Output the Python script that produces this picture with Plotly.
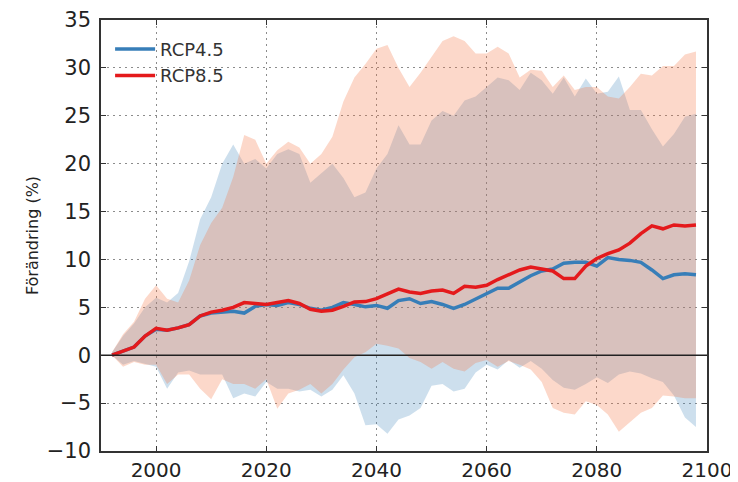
import plotly.graph_objects as go

years = list(range(1992, 2099, 2))

rcp45_mean = [0.0, 0.4, 0.85, 2.0, 2.7, 2.6, 2.85, 3.2, 4.1, 4.4,
              4.5, 4.6, 4.4, 5.1, 5.3, 5.2, 5.5, 5.3, 4.9, 4.7,
              5.0, 5.5, 5.3, 5.05, 5.2, 4.9, 5.7, 5.9, 5.4, 5.6,
              5.3, 4.9, 5.3, 5.9, 6.5, 7.0, 7.0, 7.7, 8.3, 8.8,
              9.0, 9.6, 9.7, 9.7, 9.3, 10.2, 10.0, 9.9, 9.7, 8.9,
              8.0, 8.4, 8.5, 8.4]
rcp85_mean = [0.0, 0.4, 0.85, 2.0, 2.8, 2.6, 2.85, 3.2, 4.1, 4.5,
              4.7, 5.0, 5.5, 5.4, 5.3, 5.5, 5.7, 5.4, 4.8, 4.6,
              4.7, 5.1, 5.56, 5.6, 5.9, 6.4, 6.9, 6.6, 6.45, 6.7,
              6.8, 6.45, 7.2, 7.1, 7.3, 7.9, 8.4, 8.9, 9.2, 9.0,
              8.8, 8.0, 8.0, 9.3, 10.1, 10.6, 11.0, 11.7, 12.7, 13.5,
              13.2, 13.6, 13.5, 13.6]

rcp45_high = [0.3, 2.0, 3.3, 5.0, 6.0, 5.5, 6.5, 9.8, 14.2, 16.5,
              20.0, 22.0, 20.0, 20.5, 19.5, 21.0, 21.5, 21.0, 18.0, 19.0,
              20.0, 18.5, 16.5, 17.0, 19.5, 21.0, 24.0, 22.0, 22.0, 24.5,
              25.5, 25.0, 26.6, 27.0, 28.0, 29.0, 28.7, 27.7, 29.5, 28.7,
              27.3, 29.0, 27.0, 28.9, 27.3, 27.5, 29.1, 25.6, 25.6, 23.6,
              21.8, 23.1, 24.9, 25.2]
rcp45_low = [0.0, -1.0, -0.6, -0.9, -1.2, -3.5, -1.8, -1.6, -2.0, -2.0,
             -2.0, -4.5, -4.0, -4.3, -2.8, -3.5, -3.5, -3.8, -3.6, -4.3,
             -3.6, -2.1, -4.0, -7.3, -7.2, -8.2, -6.7, -6.3, -5.5, -3.2,
             -3.0, -3.8, -3.5, -1.8, -1.0, -1.5, -0.5, -1.3, -0.6, -1.4,
             -2.6, -3.4, -3.6, -3.0, -2.3, -2.9, -2.0, -1.7, -1.9, -2.4,
             -2.8, -4.2, -6.5, -7.5]

rcp85_high = [0.3, 2.2, 3.5, 5.9, 7.3, 5.9, 5.5, 7.8, 11.5, 13.8,
              15.4, 18.6, 23.0, 22.5, 20.0, 21.4, 22.3, 21.7, 20.0, 21.0,
              22.8, 26.5, 29.0, 30.4, 32.0, 32.4, 30.0, 28.0, 29.5, 31.1,
              32.8, 33.3, 32.8, 31.5, 31.5, 32.2, 31.5, 29.0, 29.8, 29.7,
              28.0, 29.2, 27.7, 28.0, 28.0, 27.0, 26.8, 28.0, 29.4, 29.2,
              30.2, 30.2, 31.4, 31.7]
rcp85_low = [0.0, -1.2, -0.7, -1.0, -1.0, -3.0, -2.0, -2.0, -3.5, -4.6,
             -2.5, -3.0, -3.0, -3.5, -2.5, -5.6, -4.0, -3.6, -3.0, -4.0,
             -3.0, -1.5, -0.2, 0.3, 1.2, 1.0, 0.7, -0.3, -0.7, -1.4,
             -0.7, -1.4, -1.7, -0.8, -0.5, -1.2, -0.6, -1.0, -1.5, -2.8,
             -5.5, -6.0, -6.2, -4.8, -5.2, -6.2, -8.0, -7.0, -6.0, -5.5,
             -4.2, -4.3, -4.5, -4.5]

x_range = [1990, 2100]
y_range = [-10, 35]
x_ticks = [2000, 2020, 2040, 2060, 2080, 2100]
y_ticks = [-10, -5, 0, 5, 10, 15, 20, 25, 30, 35]

BLUE = "#377EB8"
RED = "#E41A1C"
BLUE_FILL = "rgba(55,126,184,0.25)"
RED_FILL = "rgba(245,115,65,0.28)"

fig = go.Figure()

# bands
fig.add_trace(go.Scatter(x=years, y=rcp45_low, mode="lines", line=dict(width=0),
                         showlegend=False, hoverinfo="skip"))
fig.add_trace(go.Scatter(x=years, y=rcp45_high, mode="lines", line=dict(width=0),
                         fill="tonexty", fillcolor=BLUE_FILL, showlegend=False,
                         hoverinfo="skip"))
fig.add_trace(go.Scatter(x=years, y=rcp85_low, mode="lines", line=dict(width=0),
                         showlegend=False, hoverinfo="skip"))
fig.add_trace(go.Scatter(x=years, y=rcp85_high, mode="lines", line=dict(width=0),
                         fill="tonexty", fillcolor=RED_FILL, showlegend=False,
                         hoverinfo="skip"))

# mean lines
fig.add_trace(go.Scatter(x=years, y=rcp45_mean, mode="lines", name="RCP4.5",
                         line=dict(color=BLUE, width=3.5)))
fig.add_trace(go.Scatter(x=years, y=rcp85_mean, mode="lines", name="RCP8.5",
                         line=dict(color=RED, width=3.5)))

fig.add_shape(type="line", xref="paper", yref="y", x0=0, x1=1, y0=0, y1=0,
              line=dict(color="#222222", width=1.6), layer="above")

axis_common = dict(
    showline=True, linecolor="#333333", linewidth=1.5, mirror="ticks",
    ticks="inside", ticklen=5, tickcolor="#333333", tickwidth=1,
    showgrid=True, gridcolor="#8c8c8c", griddash="2px,4px", gridwidth=1,
    zeroline=False, automargin=False,
)

fig.update_xaxes(range=x_range, tickvals=x_ticks, ticklabelstandoff=0,
                 tickfont=dict(family="DejaVu Sans", size=20, color="#222222"),
                 **axis_common)
fig.update_yaxes(range=y_range, tickvals=y_ticks, ticklabelstandoff=4,
                 tickfont=dict(family="DejaVu Sans", size=21, color="#222222"),
                 title=dict(text="Förändring (%)", standoff=4,
                            font=dict(family="DejaVu Sans", size=16, color="#222222")),
                 **axis_common)

# page body has an 8px default margin; size the figure so the plot area lands
# where the reference has it
fig.update_layout(
    width=730, height=474,
    margin=dict(l=93, r=31, t=12, b=31),
    plot_bgcolor="white", paper_bgcolor="white",
    legend=dict(x=0.015, y=0.975, xanchor="left", yanchor="top",
                traceorder="normal",
                bgcolor="rgba(0,0,0,0)", borderwidth=0,
                font=dict(family="DejaVu Sans", size=18, color="#333333"),
                tracegroupgap=0, itemwidth=40),
    showlegend=True,
)

fig.write_html("out.html")
